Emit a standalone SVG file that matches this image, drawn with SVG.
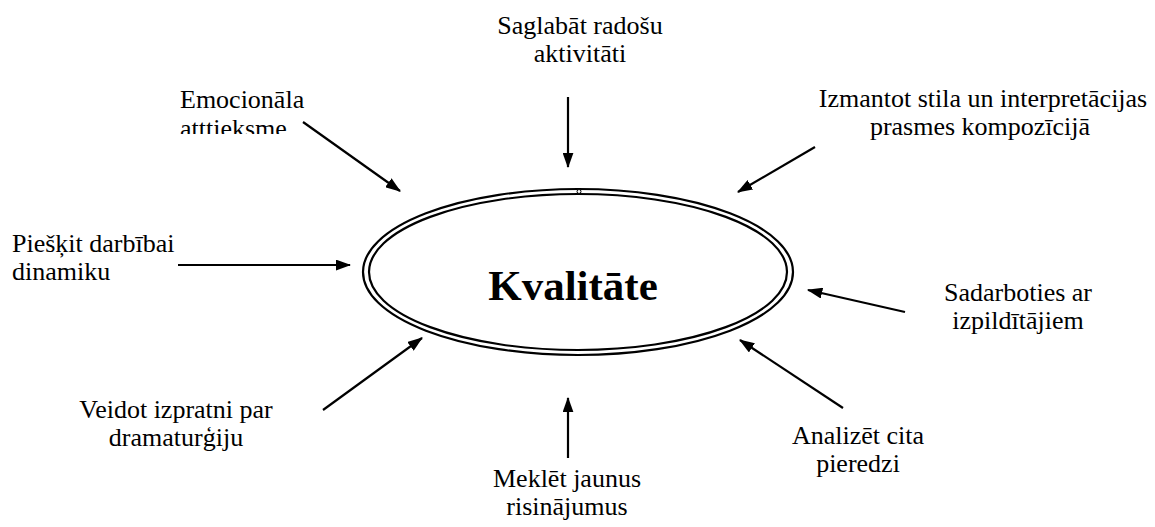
<svg xmlns="http://www.w3.org/2000/svg" width="1155" height="527" viewBox="0 0 1155 527">
  <style>
    .lbl { font-family: "Liberation Serif", "Times New Roman", serif; font-size: 26px; fill: #000; }
    .mid { text-anchor: middle; }
    .title { font-family: "Liberation Serif", "Times New Roman", serif; font-size: 43px; font-weight: bold; text-anchor: middle; fill: #000; }
    .arrow { stroke: #000; stroke-width: 2.2; fill: none; marker-end: url(#head); }
    .ring { fill: none; stroke: #000; stroke-width: 2.2; }
  </style>
  <defs>
    <marker id="head" viewBox="0 0 14 10" refX="13" refY="5" markerWidth="7" markerHeight="5" orient="auto">
      <path d="M0,0 L14,5 L0,10 Z" fill="#000"/>
    </marker>
    <clipPath id="cut-emo">
      <rect x="170" y="80" width="140" height="54"/>
    </clipPath>
  </defs>

  <!-- central node -->
  <g id="quality">
    <ellipse class="ring" cx="578" cy="272" rx="215" ry="83"/>
    <ellipse class="ring" cx="578" cy="272" rx="209" ry="78"/>
    <circle cx="579" cy="191.5" r="2" fill="#fff" stroke="#000" stroke-width="1"/>
    <text class="title" x="573" y="300">Kvalitāte</text>
  </g>

  <!-- surrounding labels -->
  <g id="n-saglabat">
    <text class="lbl mid" x="580" y="34">Saglabāt radošu</text>
    <text class="lbl mid" x="580" y="62">aktivitāti</text>
  </g>
  <g id="n-emocionala" clip-path="url(#cut-emo)">
    <text class="lbl" x="180" y="108">Emocionāla</text>
    <text class="lbl" x="180" y="137">atttieksme</text>
  </g>
  <g id="n-izmantot">
    <text class="lbl mid" x="983" y="107">Izmantot stila un interpretācijas</text>
    <text class="lbl mid" x="980" y="135">prasmes kompozīcijā</text>
  </g>
  <g id="n-pieskit">
    <text class="lbl" x="12" y="252">Piešķit darbībai</text>
    <text class="lbl" x="12" y="280">dinamiku</text>
  </g>
  <g id="n-sadarboties">
    <text class="lbl mid" x="1018" y="301">Sadarboties ar</text>
    <text class="lbl mid" x="1018" y="329">izpildītājiem</text>
  </g>
  <g id="n-analizet">
    <text class="lbl mid" x="858" y="444">Analizēt cita</text>
    <text class="lbl mid" x="858" y="472">pieredzi</text>
  </g>
  <g id="n-veidot">
    <text class="lbl mid" x="176" y="418">Veidot izpratni par</text>
    <text class="lbl mid" x="176" y="446">dramaturģiju</text>
  </g>
  <g id="n-meklet">
    <text class="lbl mid" x="567" y="487">Meklēt jaunus</text>
    <text class="lbl mid" x="567" y="515">risinājumus</text>
  </g>

  <!-- connectors -->
  <g id="connectors">
    <line class="arrow" x1="568" y1="97" x2="568" y2="167"/>
    <line class="arrow" x1="303" y1="122" x2="400" y2="191"/>
    <line class="arrow" x1="815" y1="147" x2="738" y2="192"/>
    <line class="arrow" x1="178" y1="265" x2="350" y2="265"/>
    <line class="arrow" x1="905" y1="312" x2="808" y2="290"/>
    <line class="arrow" x1="843" y1="408" x2="740" y2="340"/>
    <line class="arrow" x1="568" y1="458" x2="568" y2="398"/>
    <line class="arrow" x1="323" y1="410" x2="422" y2="338"/>
  </g>
</svg>
